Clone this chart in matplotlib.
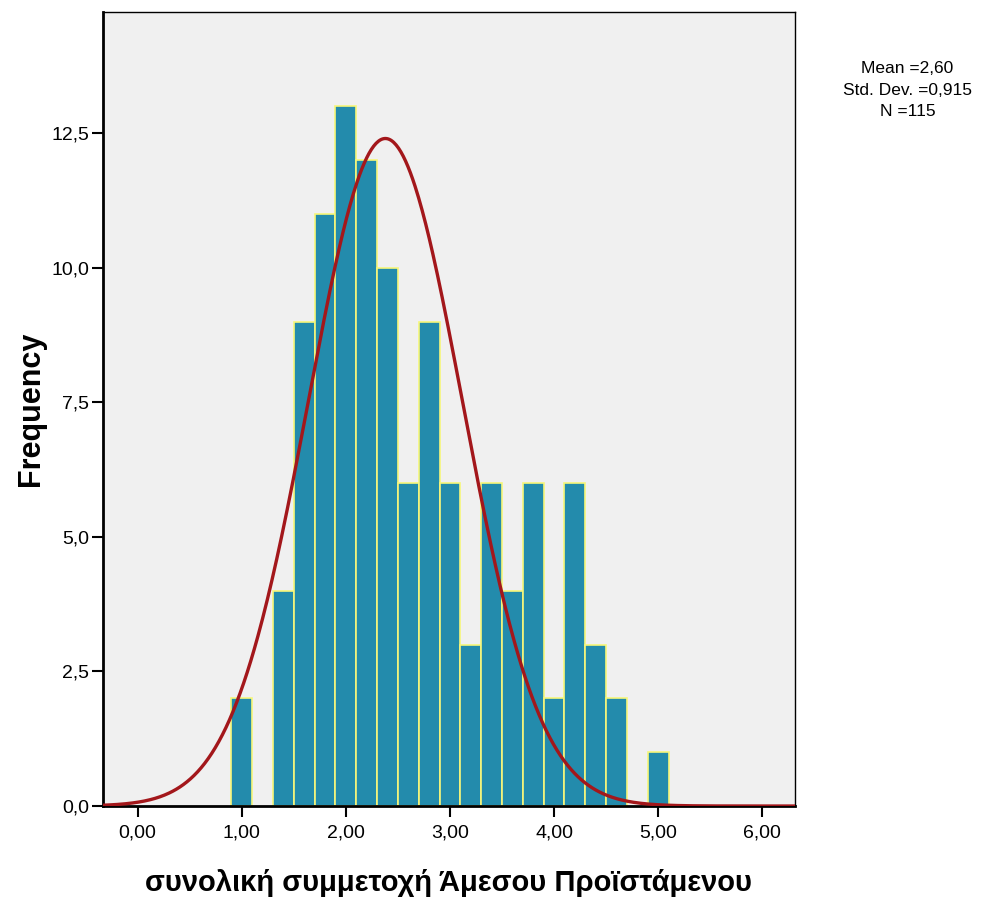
import numpy as np
import matplotlib.pyplot as plt
from matplotlib.ticker import FuncFormatter

plt.rcParams['font.family'] = ['Liberation Sans', 'DejaVu Sans']

# histogram bins (centres) and counts, bin width 0.2
bin_centres = [1.0, 1.4, 1.6, 1.8, 2.0, 2.2, 2.4, 2.6, 2.8, 3.0,
               3.2, 3.4, 3.6, 3.8, 4.0, 4.2, 4.4, 4.6, 5.0]
counts = [2, 4, 9, 11, 13, 12, 10, 6, 9, 6,
          3, 6, 4, 6, 2, 6, 3, 2, 1]
bin_width = 0.2

# fitted normal curve as drawn
curve_mean = 2.38
curve_sd = 0.74
curve_peak = 12.4

stats_text = "Mean =2,60\nStd. Dev. =0,915\nN =115"
x_ticks = [0, 1, 2, 3, 4, 5, 6]
y_ticks = [0, 2.5, 5, 7.5, 10, 12.5]

fig = plt.figure(figsize=(10.04, 9.02), dpi=100)
ax = fig.add_axes([0.1026, 0.1064, 0.6892, 0.8803])
ax.set_facecolor('#f0f0f0')

ax.bar(bin_centres, counts, width=bin_width, color='#238bac',
       edgecolor='#f7f77a', linewidth=1.2, zorder=2)

xs = np.linspace(-0.4, 6.4, 600)
ys = curve_peak * np.exp(-0.5 * ((xs - curve_mean) / curve_sd) ** 2)
ax.plot(xs, ys, color='#a3171b', linewidth=2.4, zorder=3)

ax.set_xlim(-0.332, 6.314)
ax.set_ylim(0, 14.75)
ax.set_xticks(x_ticks)
ax.set_yticks(y_ticks)
ax.xaxis.set_major_formatter(FuncFormatter(lambda v, p: f"{v:.2f}".replace('.', ',')))
ax.yaxis.set_major_formatter(FuncFormatter(lambda v, p: f"{v:.1f}".replace('.', ',')))
ax.tick_params(axis='both', direction='out', length=8, width=1.5, labelsize=14, pad=2)
ax.tick_params(axis='x', pad=5)

for side in ['left', 'bottom']:
    ax.spines[side].set_linewidth(2)
for side in ['top', 'right']:
    ax.spines[side].set_linewidth(1)

ax.set_xlabel('συνολική συμμετοχή Άμεσου Προϊστάμενου', fontsize=21,
              fontweight='bold', labelpad=20)
ax.set_ylabel('Frequency', fontsize=22, fontweight='bold', labelpad=4)

fig.text(0.904, 0.90, stats_text, ha='center', va='center',
         fontsize=12.5, linespacing=1.55)

fig.savefig('out.png', dpi=100)
